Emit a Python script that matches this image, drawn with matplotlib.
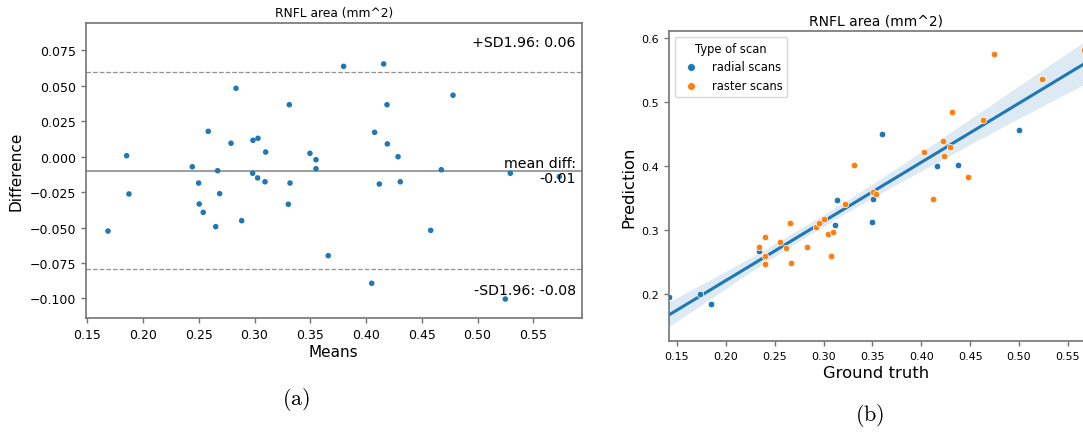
import numpy as np
import matplotlib
matplotlib.use("Agg")
import matplotlib.pyplot as plt
import seaborn as sns

plt.rcParams['font.family'] = ['DejaVu Sans']
plt.rcParams['mathtext.fontset'] = 'cm'

# ---------------- data: (a) Bland-Altman ----------------
ba_means = [0.1686, 0.1853, 0.1874, 0.2442, 0.2499, 0.2504, 0.2540, 0.2585, 0.2652, 0.2669,
            0.2687, 0.2789, 0.2834, 0.2885, 0.2983, 0.2986, 0.3028, 0.3031, 0.3094, 0.3100,
            0.3303, 0.3312, 0.3318, 0.3497, 0.3551, 0.3551, 0.3661, 0.3799, 0.4051, 0.4077,
            0.4119, 0.4158, 0.4188, 0.4191, 0.4287, 0.4307, 0.4580, 0.4675, 0.4780, 0.5249,
            0.5294, 0.5733]
ba_diffs = [-0.0525, 0.0007, -0.0263, -0.0071, -0.0186, -0.0334, -0.0393, 0.0179, -0.0494, -0.0099,
            -0.0261, 0.0095, 0.0483, -0.0452, -0.0117, 0.0116, -0.0150, 0.0130, -0.0177, 0.0033,
            -0.0336, 0.0367, -0.0186, 0.0024, -0.0021, -0.0085, -0.0699, 0.0638, -0.0894, 0.0172,
            -0.0193, 0.0655, 0.0367, 0.0090, 0.0000, -0.0177, -0.0520, -0.0092, 0.0434, -0.1005,
            -0.0117, -0.0141]
mean_diff = -0.0099
upper_loa = 0.0598
lower_loa = -0.0795
ba_xticks = [0.15, 0.20, 0.25, 0.30, 0.35, 0.40, 0.45, 0.50, 0.55]
ba_yticks = [-0.100, -0.075, -0.050, -0.025, 0.000, 0.025, 0.050, 0.075]

# ---------------- data: (b) prediction vs ground truth ----------------
radial_gt = [0.1418, 0.1735, 0.1850, 0.2334, 0.3112, 0.3133, 0.3493, 0.3507, 0.3599, 0.4163,
             0.4371, 0.4997]
radial_pred = [0.1948, 0.2000, 0.1844, 0.2672, 0.3083, 0.3469, 0.3130, 0.3484, 0.4495, 0.3995,
               0.4011, 0.4567]
raster_gt = [0.2340, 0.2398, 0.2401, 0.2401, 0.2551, 0.2615, 0.2653, 0.2666, 0.2830, 0.2918,
             0.2949, 0.3000, 0.3041, 0.3071, 0.3095, 0.3224, 0.3309, 0.3503, 0.3538, 0.4023,
             0.4116, 0.4218, 0.4235, 0.4289, 0.4316, 0.4483, 0.4633, 0.4748, 0.5238, 0.5660]
raster_pred = [0.2734, 0.2896, 0.2590, 0.2474, 0.2817, 0.2719, 0.3110, 0.2490, 0.2740, 0.3042,
               0.3105, 0.3177, 0.2933, 0.2594, 0.2969, 0.3411, 0.4016, 0.3598, 0.3563, 0.4223,
               0.3484, 0.4395, 0.4152, 0.4292, 0.4848, 0.3833, 0.4723, 0.5755, 0.5359, 0.5817]
scan_labels = ['radial scans', 'raster scans']
pv_xticks = [0.15, 0.20, 0.25, 0.30, 0.35, 0.40, 0.45, 0.50, 0.55]
pv_yticks = [0.2, 0.3, 0.4, 0.5, 0.6]

W, H = 1083, 435
fig = plt.figure(figsize=(W / 100, H / 100), dpi=100)

def px_axes(l, r, t, b):
    return fig.add_axes([l / W, 1 - b / H, (r - l) / W, (b - t) / H])

spine_col = '0.45'

# ---------------- (a) ----------------
ax1 = px_axes(85.7, 581.7, 24, 319.3)
ax1.scatter(ba_means, ba_diffs, s=16, color='#1f77b4', edgecolors='none', zorder=3)
ax1.axhline(mean_diff, color='#a0a0a0', lw=1.5, zorder=1)
ax1.axhline(upper_loa, color='#909090', lw=0.9, ls='--', zorder=1)
ax1.axhline(lower_loa, color='#909090', lw=0.9, ls='--', zorder=1)
ax1.set_xlim(0.1486, 0.5934)
ax1.set_ylim(-0.1141, 0.0944)
ax1.set_xticks(ba_xticks)
ax1.set_xticklabels([f'{v:.2f}' for v in ba_xticks])
ax1.set_yticks(ba_yticks)
ax1.set_yticklabels([f'{v:.3f}'.replace('-', '\u2212') for v in ba_yticks])
ax1.tick_params(labelsize=9, width=1.0, length=3.5, color=spine_col)
ax1.set_xlabel('Means', fontsize=11, labelpad=2)
ax1.set_ylabel('Difference', fontsize=11, labelpad=4)
ax1.set_title('RNFL area (mm^2)', fontsize=8.8, pad=5)
ax1.text(0.9885, 0.9347, f'+SD1.96: {upper_loa:.2f}', transform=ax1.transAxes,
         ha='right', va='center', fontsize=10.2)
ax1.text(0.9885, mean_diff, f'mean diff:\n{mean_diff:.2f}',
         transform=ax1.get_yaxis_transform(), ha='right', va='center',
         fontsize=10.2, multialignment='right', linespacing=1.1)
ax1.text(0.9885, 0.0958, f'-SD1.96: {lower_loa:.2f}', transform=ax1.transAxes,
         ha='right', va='center', fontsize=10.2)
for s in ax1.spines.values():
    s.set_color(spine_col)
    s.set_linewidth(1.2)

# ---------------- (b) ----------------
ax2 = px_axes(669, 1083.5, 32.3, 342.3)
all_gt = np.array(radial_gt + raster_gt)
all_pred = np.array(radial_pred + raster_pred)
sns.regplot(x=all_gt, y=all_pred, ax=ax2, scatter=False, color='#1f77b4', ci=95,
            seed=0, truncate=True, line_kws=dict(lw=2.2))
ax2.scatter(radial_gt, radial_pred, s=22, color='#1f77b4', edgecolors='white',
            linewidths=0.5, label=scan_labels[0], zorder=3)
ax2.scatter(raster_gt, raster_pred, s=22, color='#ff7f0e', edgecolors='white',
            linewidths=0.5, label=scan_labels[1], zorder=3)
ax2.set_xlim(min(all_gt), max(all_gt))
ax2.set_ylim(0.126, 0.6105)
ax2.set_xticks(pv_xticks)
ax2.set_xticklabels([f'{v:.2f}' for v in pv_xticks])
ax2.set_yticks(pv_yticks)
ax2.set_yticklabels([f'{v:.1f}' for v in pv_yticks])
ax2.tick_params(labelsize=8, width=1.0, length=3.5, color=spine_col)
ax2.set_xlabel('Ground truth', fontsize=11.8, labelpad=3)
ax2.set_ylabel('Prediction', fontsize=11.8, labelpad=4)
ax2.set_title('RNFL area (mm^2)', fontsize=10, pad=5)
leg = ax2.legend(title='Type of scan', fontsize=8.3, title_fontsize=8.3, loc='upper left',
                 markerscale=1.2, framealpha=0.8)
for s in ax2.spines.values():
    s.set_color(spine_col)
    s.set_linewidth(1.2)

fig.text(296 / W, 1 - 400 / H, r'$\mathrm{(a)}$', fontsize=16, ha='center', va='center')
fig.text(870 / W, 1 - 416 / H, r'$\mathrm{(b)}$', fontsize=16, ha='center', va='center')

fig.savefig('out.png', dpi=100)
